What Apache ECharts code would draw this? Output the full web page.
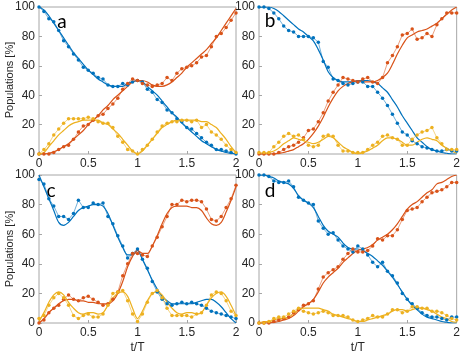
<!DOCTYPE html>
<html>
<head>
<meta charset="utf-8">
<script src="https://cdn.jsdelivr.net/npm/echarts@6/dist/echarts.min.js"></script>
<style>
  html, body { margin: 0; padding: 0; background: #fff; }
  #main { width: 463px; height: 357px; }
</style>
</head>
<body>
<div id="main"></div>
<script>
// time axis in units of t/T (shared by fits and measured points)
var tData = [0,0.05,0.1,0.15,0.2,0.25,0.3,0.35,0.4,0.45,0.5,0.55,0.6,0.65,0.7,0.75,0.8,0.85,0.9,0.95,
  1,1.05,1.1,1.15,1.2,1.25,1.3,1.35,1.4,1.45,1.5,1.55,1.6,1.65,1.7,1.75,1.8,1.85,1.9,1.95,2];

// panel a
var aBlueFit = [100,98,94,89,84,79,74,69,65,61,57,54,51,49,47,46,46,46,48,49,50,49,46,43,40,36,32,28,25,21,18,15,12,9,7,5,3,2,1,0.5,0];
var aRedFit = [0,0,0.5,1.5,3,5,7,10,13,16,20,23,26,30,33,37,40,43,46,49,50,50,49,47,46,46,47,49,52,55,59,62,65,68,71,75,79,84,89,94,99];
var aYellowFit = [0,1,5,9,13,16,19,21,22,23,23,23,23,21,20,17,14,10,6,2,0,2,6,10,14,18,20,22,23,23,23,23,23,22,22,20,18,14,10,5,1];
var aBlueExp = [100,97,92,90,84,77,73,68,64,59,57,55,52,51,47,46,46,48,47,49,50,49,44,42,37,35,30,28,24,22,18,17,14,11,8,6,3,3,2,1,0];
var aRedExp = [0,0,0,1,3,5,6,10,15,19,20,23,26,27,31,34,38,44,48,51,50,48,47,46,47,48,52,50,55,58,59,60,62,66,67,73,80,82,86,91,96];
var aYellowExp = [0,3,7,13,17,21,24,24,24,24,25,24,22,21,21,18,12,8,3,2,0,3,6,10,15,19,21,22,22,23,23,22,23,18,20,15,13,10,6,3,1];

// panel b
var bBlueFit = [100,100,100,99,97,94,91,88,85,83,80,77,71,64,56,52,50,49,49,49,50,50,50,49,48,45,42,37,32,26,21,16,11,8,5,3,2,1,0.5,0,0];
var bRedFit = [0,0,0,0,0.5,1,2,3,5,7,10,14,19,25,32,38,43,46,48,49,50,49,49,49,50,52,55,61,68,74,79,81,83,84,85,87,89,92,95,98,100];
var bYellowFit = [0,0,1,2,4,7,9,11,10,9,8,7,8,10,12,11,8,5,3,1,0,1,2,4,6,9,11,11,10,8,6,6,8,10,11,10,9,6,4,2,0.5];
var bBlueExp = [100,100,99,96,92,87,84,83,80,80,80,79,76,63,59,51,50,48,47,48,49,49,46,46,42,38,33,27,21,15,13,9,7,5,4,3,2,2,3,2,2];
var bRedExp = [0,0,0,0,1,3,5,6,8,11,16,17,22,28,36,42,47,52,51,50,49,51,52,49,48,52,62,67,73,81,82,85,78,79,82,80,88,92,96,96,96];
var bYellowExp = [1,1,1,5,8,12,14,12,13,10,6,5,6,12,13,12,6,2,2,1,1,1,3,6,8,12,13,11,10,6,6,10,13,15,16,18,11,7,3,3,3];

// panel c
var cBlueFit = [100,92,84,76,68,66,68,72,76,78,79,80,80,79,74,66,58,51,46,46,49,43,36,29,23,18,15,13,13,13,13,13,14,15,16,16,14,11,7,3,0];
var cRedFit = [0,3,7,10,13,15,16,16,15,15,14,14,13,13,13,15,20,28,38,45,49,47,47,52,59,67,74,78,79,79,79,78,78,76,71,67,66,68,75,83,92];
var cYellowFit = [1,7,14,19,21,19,14,10,7,6,7,7,6,7,12,17,20,21,18,10,3,8,15,20,21,19,14,10,7,6,7,7,6,7,12,17,20,21,18,12,5];
var cBlueExp = [97,94,84,79,72,72,70,74,83,78,78,81,80,81,72,67,59,52,44,47,50,43,37,28,21,16,13,12,13,14,13,14,13,12,10,8,7,6,5,4,3];
var cRedExp = [0,2,7,10,12,16,19,16,15,17,18,16,14,12,13,16,21,32,40,47,47,46,45,52,58,65,72,80,80,83,82,83,83,82,77,70,69,72,78,84,93];
var cYellowExp = [3,5,12,17,20,17,12,5,3,5,6,4,4,6,12,20,21,22,15,6,1,6,14,20,22,17,10,5,5,5,5,4,6,7,12,19,21,20,15,8,5];

// panel d
var dBlueFit = [100,100,99,98,96,95,94,91,86,83,81,78,72,66,62,60,58,54,51,50,50,49,47,45,42,39,35,31,26,21,16,12,9,6,4,3,2,1,0.5,0,0];
var dRedFit = [0,0,0,0.5,1,2,3,5,8,11,13,16,21,27,31,34,37,41,44,47,49,50,51,53,56,58,60,63,67,72,77,80,82,85,88,90,94,95,97,99,100];
var dYellowFit = [0,1,1,2,3,3,4,6,9,10,10,10,10,9,8,6,5,4,3,2,1,1,2,3,4,5,6,8,9,9,8,9,10,10,9,8,6,4,3,1,0.5];
var dBlueExp = [100,100,99,96,95,95,96,92,85,83,81,80,69,64,60,61,56,52,50,48,52,50,46,41,38,41,35,32,27,20,16,13,10,7,5,4,4,3,2,4,4];
var dRedExp = [0,0,0,1,2,3,4,7,9,12,13,15,23,31,34,36,38,43,47,50,48,48,49,52,57,56,59,59,63,70,76,77,78,82,85,88,89,90,92,95,95];
var dYellowExp = [0,0,1,3,4,4,6,8,10,8,7,6,7,8,7,5,5,5,4,2,1,2,3,5,4,4,6,9,9,7,8,11,11,10,10,8,8,7,5,3,2];

var xTicks = [0, 0.5, 1, 1.5, 2];
var yTicks = [0, 20, 40, 60, 80, 100];
var panelLetters = ['a', 'b', 'c', 'd'];
var colors = ['#0072BD', '#D95319', '#EDB120'];

var panels = [
  {fit: [aBlueFit, aRedFit, aYellowFit], exp: [aBlueExp, aRedExp, aYellowExp]},
  {fit: [bBlueFit, bRedFit, bYellowFit], exp: [bBlueExp, bRedExp, bYellowExp]},
  {fit: [cBlueFit, cRedFit, cYellowFit], exp: [cBlueExp, cRedExp, cYellowExp]},
  {fit: [dBlueFit, dRedFit, dYellowFit], exp: [dBlueExp, dRedExp, dYellowExp]}
];

var boxes = [
  {left: 39, top: 7, width: 197, height: 147},
  {left: 259, top: 7, width: 198, height: 147},
  {left: 39, top: 175, width: 197, height: 148},
  {left: 259, top: 175, width: 198, height: 148}
];
var letterPos = [[62, 22], [270, 21], [51, 191], [270, 191]];

function pairs(arr) {
  return tData.map(function (t, i) { return [t, arr[i]]; });
}

var grids = [], xAxes = [], yAxes = [], series = [], graphics = [];
var labelStyle = {fontFamily: 'Liberation Sans', fontSize: 12, color: '#262626'};

boxes.forEach(function (b, p) {
  grids.push({left: b.left, top: b.top, width: b.width, height: b.height,
    show: true, borderColor: '#a6a6a6', borderWidth: 1});
  xAxes.push({
    type: 'value', gridIndex: p, min: 0, max: 2, interval: 0.5,
    axisLine: {show: false},
    axisTick: {inside: true, length: 3, lineStyle: {color: '#a6a6a6'}},
    splitLine: {show: false},
    axisLabel: Object.assign({margin: 4}, labelStyle),
    name: p >= 2 ? 't/T' : '', nameLocation: 'middle', nameGap: 19,
    nameTextStyle: labelStyle
  });
  yAxes.push({
    type: 'value', gridIndex: p, min: 0, max: 100, interval: 20,
    axisLine: {show: false},
    axisTick: {inside: true, length: 3, lineStyle: {color: '#a6a6a6'}},
    splitLine: {show: false},
    axisLabel: Object.assign({margin: 4}, labelStyle)
  });
  graphics.push({
    type: 'text', x: letterPos[p][0], y: letterPos[p][1],
    style: {text: panelLetters[p], fontFamily: 'Lato', fontSize: 19, fill: '#000',
      textAlign: 'center', textVerticalAlign: 'middle'}
  });
  for (var k = 0; k < 3; k++) {
    series.push({
      type: 'line', xAxisIndex: p, yAxisIndex: p,
      data: pairs(panels[p].fit[k]), smooth: 0.3, showSymbol: false,
      lineStyle: {color: colors[k], width: 1.2}, itemStyle: {color: colors[k]}
    });
    series.push({
      type: 'line', xAxisIndex: p, yAxisIndex: p,
      data: pairs(panels[p].exp[k]), symbol: 'circle', symbolSize: 3.5,
      lineStyle: {color: colors[k], width: 0.7, opacity: 0.8},
      itemStyle: {color: colors[k]}
    });
  }
});

[80, 249].forEach(function (y) {
  graphics.push({
    type: 'text', x: 10, y: y, rotation: Math.PI / 2,
    style: {text: 'Populations [%]', fontFamily: 'Liberation Sans', fontSize: 11,
      fill: '#262626', textAlign: 'center', textVerticalAlign: 'middle'}
  });
});

var chart = echarts.init(document.getElementById('main'));
chart.setOption({
  animation: false,
  grid: grids,
  xAxis: xAxes,
  yAxis: yAxes,
  series: series,
  graphic: graphics
});
</script>
</body>
</html>
